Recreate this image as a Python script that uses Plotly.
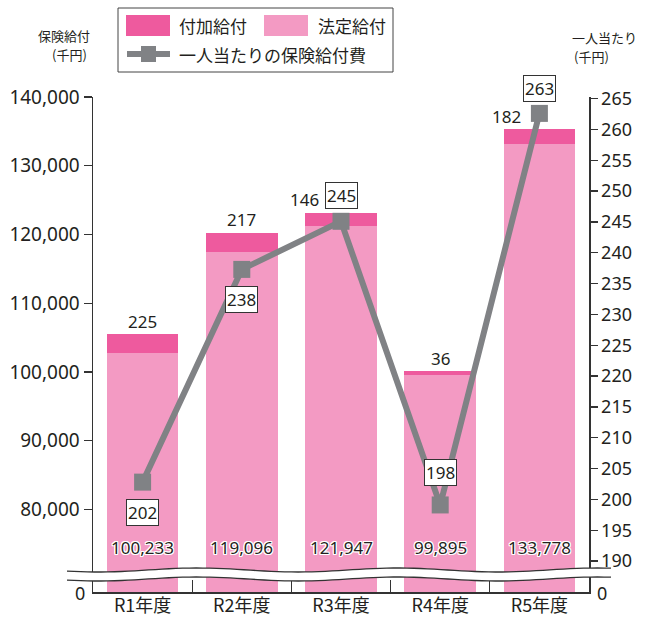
import math
import plotly.graph_objects as go

# ---------------- data ----------------
categories = ["R1年度", "R2年度", "R3年度", "R4年度", "R5年度"]
# bar heights as drawn in the picture (千円)
legal_bar = [102770, 117460, 121200, 99530, 133170]
extra_bar = [2720, 2760, 1930, 580, 2130]
# printed labels
legal_labels = ["100,233", "119,096", "121,947", "99,895", "133,778"]
extra_labels = ["225", "217", "146", "36", "182"]
# per-capita benefit cost (千円) as plotted, and its printed labels
per_capita = [202.8, 237.3, 245.1, 199.1, 262.6]
per_capita_labels = ["202", "238", "245", "198", "263"]

left_ticks = [80000, 90000, 100000, 110000, 120000, 130000, 140000]
right_ticks = list(range(190, 266, 5))

DARK = "#EE5A9E"
LIGHT = "#F39AC3"
GRAY = "#808285"
TXT = "#231F20"
FONT = "Noto Sans, Noto Sans CJK JP, sans-serif"
JFONT = "Noto Sans CJK JP, Noto Sans, sans-serif"

# plot area in pixels
L, R, T, B = 93, 589, 97, 592
W, H = 656, 617


def px(x):
    return (x - L) / (R - L)


def py(y):
    return (B - y) / (B - T)


fig = go.Figure()
fig.add_trace(go.Bar(x=categories, y=legal_bar, marker=dict(color=LIGHT, line=dict(width=0)),
                     name="法定給付", showlegend=False, hoverinfo="skip"))
fig.add_trace(go.Bar(x=categories, y=extra_bar, marker=dict(color=DARK, line=dict(width=0)),
                     name="付加給付", showlegend=False, hoverinfo="skip"))
fig.add_trace(go.Scatter(x=categories, y=per_capita, yaxis="y2", mode="lines+markers",
                         line=dict(color=GRAY, width=6),
                         marker=dict(symbol="square", size=17, color=GRAY),
                         name="一人当たりの保険給付費", showlegend=False, cliponaxis=False,
                         hoverinfo="skip"))

annotations = []


def ptext(x, y, text, size, family=JFONT, xanchor="center"):
    annotations.append(dict(x=px(x), y=py(y), xref="paper", yref="paper", text=text, showarrow=False,
                            xanchor=xanchor, yanchor="middle",
                            font=dict(size=size, color=TXT, family=family)))


shadow = ("1px 1px 0 #fff, -1px -1px 0 #fff, 1px -1px 0 #fff, -1px 1px 0 #fff, "
          "0 1px 0 #fff, 0 -1px 0 #fff, 1px 0 0 #fff, -1px 0 0 #fff")
extra_xshift = [0, 0, -37, 0, -33]
for i, c in enumerate(categories):
    annotations.append(dict(x=c, y=74400, xref="x", yref="y", text=legal_labels[i], showarrow=False,
                            xanchor="center", yanchor="middle",
                            font=dict(size=17, color=TXT, family=FONT, shadow=shadow)))
    annotations.append(dict(x=c, y=legal_bar[i] + extra_bar[i], xref="x", yref="y", text=extra_labels[i],
                            showarrow=False, yshift=13, xshift=extra_xshift[i],
                            xanchor="center", yanchor="middle",
                            font=dict(size=17, color=TXT, family=FONT)))
box_shift = [-30, -30, 26, 32, 25]
for i, c in enumerate(categories):
    annotations.append(dict(x=c, y=per_capita[i], xref="x", yref="y2", text=per_capita_labels[i],
                            showarrow=False, yshift=box_shift[i], bgcolor="white",
                            xanchor="center", yanchor="middle",
                            bordercolor="#333333", borderwidth=1, borderpad=1,
                            font=dict(size=17, color=TXT, family=FONT)))

# zero labels below the break
ptext(80, 593, "0", 18, FONT)
ptext(602, 593, "0", 18, FONT)

# axis titles
ptext(64, 35, "保険給付", 13)
ptext(69, 55, "(千円)", 13)
ptext(604, 37, "一人当たり", 13)
ptext(591, 57, "(千円)", 13)

# legend (drawn)
shapes = []
shapes.append(dict(type="rect", xref="paper", yref="paper", x0=px(118), x1=px(393), y0=py(72), y1=py(8),
                   line=dict(color="#444444", width=1), fillcolor="white", layer="above"))
shapes.append(dict(type="rect", xref="paper", yref="paper", x0=px(126), x1=px(170), y0=py(36), y1=py(15),
                   line=dict(width=0), fillcolor=DARK, layer="above"))
shapes.append(dict(type="rect", xref="paper", yref="paper", x0=px(264), x1=px(308), y0=py(36), y1=py(15),
                   line=dict(width=0), fillcolor=LIGHT, layer="above"))
shapes.append(dict(type="line", xref="paper", yref="paper", x0=px(127), x1=px(170), y0=py(54), y1=py(54),
                   line=dict(color=GRAY, width=6), layer="above"))
shapes.append(dict(type="rect", xref="paper", yref="paper", x0=px(141), x1=px(156), y0=py(62), y1=py(46),
                   line=dict(width=0), fillcolor=GRAY, layer="above"))
ptext(177, 26, "付加給付", 17, xanchor="left")
ptext(316, 26, "法定給付", 17, xanchor="left")
ptext(177, 55, "一人当たりの保険給付費", 17, xanchor="left")


# axis break (wavy band)
def wave_pts(y0, x0=67, x1=611, n=80, amp=2.0, period=200.0):
    pts = []
    for k in range(n + 1):
        x = x0 + (x1 - x0) * k / n
        y = y0 + amp * math.sin(2 * math.pi * (x - x0) / period + 0.6)
        pts.append((x, y))
    return pts


top = wave_pts(570)
bot = wave_pts(579)
band = "M " + " L ".join(f"{px(x):.5f},{py(y):.5f}" for x, y in top)
band += " L " + " L ".join(f"{px(x):.5f},{py(y):.5f}" for x, y in reversed(bot)) + " Z"
shapes.append(dict(type="path", xref="paper", yref="paper", path=band, fillcolor="white",
                   line=dict(width=0), layer="above"))
for pts in (top, bot):
    p = "M " + " L ".join(f"{px(x):.5f},{py(y):.5f}" for x, y in pts)
    shapes.append(dict(type="path", xref="paper", yref="paper", path=p,
                       line=dict(color="#333333", width=1.3), layer="above"))

fig.update_layout(
    width=W, height=H,
    margin=dict(l=L, r=W - R, t=T, b=H - B, autoexpand=False),
    paper_bgcolor="white", plot_bgcolor="white",
    barmode="stack", bargap=0.28,
    showlegend=False,
    annotations=annotations, shapes=shapes,
    font=dict(family=FONT, color=TXT),
    xaxis=dict(type="category", tickson="boundaries", ticks="inside", ticklen=12, tickwidth=1.3,
               tickcolor="#333333", showline=True, linecolor="#333333", linewidth=1.5,
               tickfont=dict(size=18, family=JFONT, color=TXT), showgrid=False, automargin=False,
               ticklabelstandoff=-3),
    yaxis=dict(range=[67975, 140000], tickvals=left_ticks,
               ticktext=[f"{v:,}" for v in left_ticks], ticks="outside", ticklen=8, tickwidth=1.3,
               tickcolor="#333333", showline=True, linecolor="#333333", linewidth=1.5,
               showgrid=False, zeroline=False, tickfont=dict(size=19, color=TXT, family=FONT),
               automargin=False),
    yaxis2=dict(range=[184.98, 265.26], overlaying="y", side="right", tickvals=right_ticks,
                ticktext=[str(v) for v in right_ticks], ticks="outside", ticklen=7, tickwidth=1.3,
                tickcolor="#333333", showline=True, linecolor="#333333", linewidth=1.5,
                showgrid=False, zeroline=False, tickfont=dict(size=18, color=TXT, family=FONT),
                automargin=False),
)

fig.write_html("out.html", config={"displayModeBar": False, "staticPlot": True},
               post_script="document.body.style.margin='0';document.body.style.overflow='hidden';")
